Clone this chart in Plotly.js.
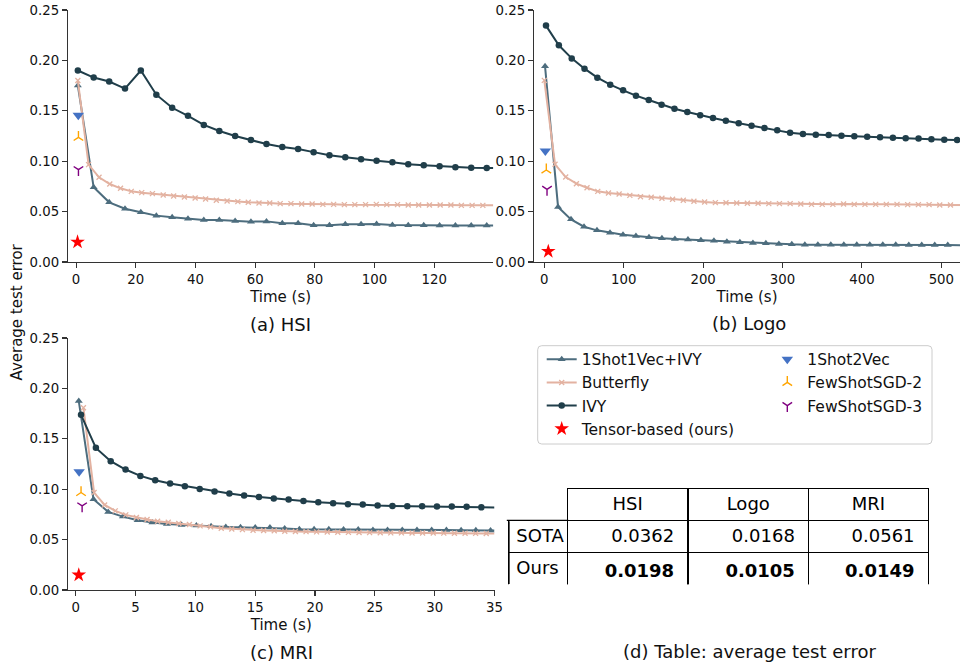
<!DOCTYPE html>
<html><head><meta charset="utf-8">
<script src="https://cdn.plot.ly/plotly-3.0.1.min.js"></script>
<style>html,body{margin:0;padding:0;background:#fff}#chart{width:960px;height:666px}</style>
</head><body><div id="chart"></div>
<script>
// ---------------- DATA ----------------
// (a) HSI
const hsiTimeIvy = [0.6, 5.9, 11.1, 16.4, 21.7, 26.9, 32.2, 37.5, 42.8, 48.0, 53.3, 58.6, 63.8, 69.1, 74.4, 79.6, 84.9, 90.2, 95.5, 100.7, 106.0, 111.3, 116.5, 121.8, 127.1, 132.4, 137.6];
const hsiIvy = [0.190, 0.183, 0.179, 0.172, 0.190, 0.166, 0.153, 0.145, 0.136, 0.130, 0.125, 0.121, 0.117, 0.114, 0.112, 0.109, 0.106, 0.104, 0.102, 0.1005, 0.099, 0.097, 0.096, 0.095, 0.094, 0.0936, 0.0933];
const hsi1Shot1Vec = [0.175, 0.0741, 0.0592, 0.0529, 0.0493, 0.046, 0.0443, 0.043, 0.0417, 0.0417, 0.0407, 0.040, 0.0403, 0.0384, 0.0384, 0.0364, 0.0364, 0.0374, 0.0374, 0.0377, 0.0367, 0.0364, 0.0364, 0.0362, 0.0362, 0.0362, 0.0362];
const hsiTimeButterfly = [0.6, 4.2, 7.7, 11.3, 14.9, 18.5, 22.0, 25.6, 29.2, 32.7, 36.3, 39.9, 43.4, 47.0, 50.6, 54.2, 57.7, 61.3, 64.9, 68.4, 72.0, 75.6, 79.1, 82.7, 86.3, 89.9, 93.4, 97.0, 100.6, 104.1, 107.7, 111.3, 114.8, 118.4, 122.0, 125.6, 129.1, 132.7, 136.3];
const hsiButterfly = [0.180, 0.0966, 0.084, 0.0774, 0.0731, 0.0701, 0.0688, 0.0678, 0.0665, 0.0655, 0.0645, 0.0635, 0.0625, 0.0612, 0.0605, 0.0599, 0.0592, 0.0585, 0.0585, 0.0579, 0.0579, 0.0576, 0.0576, 0.0572, 0.0572, 0.0569, 0.0569, 0.0569, 0.0572, 0.0569, 0.0569, 0.0565, 0.0565, 0.0565, 0.0565, 0.0565, 0.0562, 0.0562, 0.0562];
// curve values where the lines leave the plot at its right edge: IVY, 1Shot1Vec+IVY, Butterfly
const hsiEdgeTime = 139.8;
const hsiEdgeErr = [0.0932, 0.0362, 0.0562];
// single-point methods: 1Shot2Vec, FewShotSGD-2, FewShotSGD-3, Tensor-based (ours)
const hsiPointTime = [0.75, 0.8, 0.8, 0.5];
const hsiPointErr = [0.1455, 0.1237, 0.0916, 0.0198];

// (b) Logo
const logoTimeIvy = [2.1, 18.3, 34.5, 50.6, 66.8, 83.0, 99.2, 115.4, 131.5, 147.7, 163.9, 180.1, 196.3, 212.4, 228.6, 244.8, 261.0, 277.2, 293.3, 309.5, 325.7, 341.9, 358.1, 374.2, 390.4, 406.6, 422.8, 439.0, 455.1, 471.3, 487.5, 503.7, 519.9];
const logoIvy = [0.2345, 0.215, 0.202, 0.1918, 0.1829, 0.1759, 0.1703, 0.165, 0.1607, 0.1561, 0.1521, 0.1488, 0.1455, 0.1429, 0.1402, 0.1376, 0.1352, 0.1329, 0.1306, 0.1283, 0.127, 0.1263, 0.126, 0.1253, 0.1247, 0.1243, 0.1237, 0.1233, 0.1227, 0.1224, 0.1217, 0.1214, 0.121];
const logoTime1Shot1Vec = [0.9, 17.3, 33.6, 50.0, 66.3, 82.7, 99.1, 115.4, 131.8, 148.1, 164.5, 180.9, 197.2, 213.6, 229.9, 246.3, 262.7, 279.0, 295.4, 311.7, 328.1, 344.5, 360.8, 377.2, 393.5, 409.9, 426.3, 442.6, 459.0, 475.3, 491.7, 508.1];
const logo1Shot1Vec = [0.1941, 0.0546, 0.0423, 0.035, 0.0314, 0.0291, 0.0271, 0.0258, 0.0245, 0.0235, 0.0228, 0.0222, 0.0215, 0.0212, 0.0202, 0.0195, 0.0188, 0.0185, 0.0179, 0.0175, 0.0172, 0.0172, 0.0172, 0.0172, 0.0172, 0.0172, 0.0172, 0.0172, 0.0169, 0.0169, 0.0169, 0.0168];
const logoTimeButterfly = [0, 13.5, 26.9, 40.4, 53.8, 67.3, 80.8, 94.2, 107.7, 121.1, 134.6, 148.1, 161.5, 175.0, 188.4, 201.9, 215.4, 228.8, 242.3, 255.7, 269.2, 282.7, 296.1, 309.6, 323.0, 336.5, 350.0, 363.4, 376.9, 390.3, 403.8, 417.3, 430.7, 444.2, 457.6, 471.1, 484.6, 498.0, 511.5];
const logoButterfly = [0.1802, 0.0969, 0.0843, 0.0777, 0.0737, 0.0701, 0.0685, 0.0675, 0.0661, 0.0648, 0.0642, 0.0632, 0.0622, 0.0612, 0.0602, 0.0595, 0.0589, 0.0587, 0.0585, 0.0582, 0.0582, 0.0579, 0.0579, 0.0579, 0.0575, 0.0572, 0.0572, 0.0572, 0.0575, 0.0572, 0.0572, 0.0572, 0.0572, 0.0572, 0.0569, 0.0569, 0.0569, 0.0565, 0.0565];
const logoEdgeTime = 523.5;
const logoEdgeErr = [0.1209, 0.0167, 0.0565];
const logoPointTime = [1.3, 2.5, 3.4, 5.0];
const logoPointErr = [0.1101, 0.0913, 0.0721, 0.0105];

// (c) MRI
const mriTimeIvy = [0.44, 1.68, 2.92, 4.16, 5.40, 6.64, 7.88, 9.12, 10.36, 11.60, 12.84, 14.07, 15.31, 16.55, 17.79, 19.03, 20.27, 21.51, 22.75, 23.99, 25.23, 26.47, 27.71, 28.95, 30.19, 31.43, 32.67, 33.90];
const mriIvy = [0.1738, 0.141, 0.1278, 0.1195, 0.1132, 0.1089, 0.1056, 0.103, 0.1003, 0.0977, 0.0957, 0.0937, 0.0922, 0.0907, 0.0897, 0.0884, 0.0871, 0.0861, 0.0851, 0.0848, 0.0838, 0.0834, 0.0831, 0.0831, 0.0828, 0.0828, 0.0825, 0.0820];
const mriTime1Shot1Vec = [0.25, 1.48, 2.71, 3.94, 5.17, 6.40, 7.62, 8.85, 10.08, 11.31, 12.54, 13.77, 15.00, 16.23, 17.46, 18.69, 19.92, 21.15, 22.38, 23.61, 24.84, 26.06, 27.29, 28.52, 29.75, 30.98, 32.21, 33.44, 34.67];
const mri1Shot1Vec = [0.1874, 0.0901, 0.0775, 0.0728, 0.0692, 0.0669, 0.0656, 0.0646, 0.0639, 0.0632, 0.0626, 0.0623, 0.0619, 0.0619, 0.0609, 0.0603, 0.0603, 0.0603, 0.0599, 0.0599, 0.0596, 0.0596, 0.0596, 0.0596, 0.0596, 0.0596, 0.0593, 0.0593, 0.059];
const mriTimeButterfly = [0.64, 1.53, 2.41, 3.30, 4.18, 5.07, 5.96, 6.84, 7.73, 8.61, 9.50, 10.39, 11.27, 12.16, 13.04, 13.93, 14.82, 15.70, 16.59, 17.47, 18.36, 19.25, 20.13, 21.02, 21.90, 22.79, 23.68, 24.56, 25.45, 26.33, 27.22, 28.11, 28.99, 29.88, 30.76, 31.65, 32.54, 33.42, 34.31];
const mriButterfly = [0.1808, 0.0967, 0.0844, 0.0785, 0.0745, 0.0719, 0.0699, 0.0682, 0.0672, 0.0659, 0.0649, 0.0636, 0.0626, 0.0613, 0.0606, 0.0599, 0.0593, 0.0590, 0.0588, 0.0583, 0.0581, 0.0579, 0.0577, 0.0575, 0.0573, 0.0572, 0.0570, 0.0569, 0.0568, 0.0567, 0.0567, 0.0566, 0.0565, 0.0565, 0.0564, 0.0563, 0.0563, 0.0562, 0.0561];
const mriEdgeTime = 35;
const mriEdgeErr = [0.0819, 0.0590, 0.0561];
const mriPointTime = [0.28, 0.44, 0.53, 0.25];
const mriPointErr = [0.1172, 0.0967, 0.0834, 0.0149];

// (d) table
const tableDatasets = ['HSI', 'Logo', 'MRI'];
const tableRowLabels = ['SOTA', 'Ours'];
const tableSota = [0.0362, 0.0168, 0.0561];
const tableOurs = [0.0198, 0.0105, 0.0149];

const pointMethods = ['1Shot2Vec', 'FewShotSGD-2', 'FewShotSGD-3', 'Tensor-based (ours)'];
const yTickVals = [0, 0.05, 0.10, 0.15, 0.20, 0.25];
const hsiTicks = [0, 20, 40, 60, 80, 100, 120];
const logoTicks = [0, 100, 200, 300, 400, 500];
const mriTicks = [0, 5, 10, 15, 20, 25, 30, 35];

// ---------------- STYLE ----------------
const FONT = 'DejaVu Sans, Liberation Sans, sans-serif';
const W = 960, H = 666;
const PX = p => p / W, PY = p => 1 - p / H;

const lineStyle = {
  '1Shot1Vec+IVY': {color: '#4d6d7e', symbol: 'triangle-up', size: 7, rank: 1},
  'Butterfly': {color: '#e3b2a1', symbol: 'x-thin', size: 5, rank: 3},
  'IVY': {color: '#203e4a', symbol: 'circle', size: 6.5, rank: 5}
};
const pointStyle = {
  '1Shot2Vec': {color: '#4472c4', symbol: 'triangle-down', size: 10, lw: 0, legend: 'legend2', rank: 2},
  'FewShotSGD-2': {color: '#ffa500', symbol: 'y-up', size: 8, lw: 1.4, legend: 'legend2', rank: 4},
  'FewShotSGD-3': {color: '#800080', symbol: 'y-down', size: 8, lw: 1.4, legend: 'legend2', rank: 6},
  'Tensor-based (ours)': {color: '#ff0000', symbol: 'star', size: 11, lw: 0, legend: 'legend', rank: 7}
};

function lineTrace(name, x, y, ax, show) {
  const s = lineStyle[name];
  const m = {symbol: s.symbol, size: s.size, color: s.color};
  if (s.symbol === 'x-thin') m.line = {color: s.color, width: 1.3};
  return {
    type: 'scatter', mode: 'lines+markers', name, x, y,
    xaxis: 'x' + ax, yaxis: 'y' + ax,
    line: {color: s.color, width: 2},
    marker: m, showlegend: show, legend: 'legend', legendrank: s.rank,
    cliponaxis: false
  };
}
// continuation of a curve from its last marker to the right edge of the axes
function edgeTrace(name, x, y, edgeX, edgeY, ax) {
  const s = lineStyle[name];
  return {
    type: 'scatter', mode: 'lines', name, x: [x[x.length - 1], edgeX], y: [y[y.length - 1], edgeY],
    xaxis: 'x' + ax, yaxis: 'y' + ax, line: {color: s.color, width: 2},
    showlegend: false, hoverinfo: 'skip'
  };
}
function pointTraces(xs, ys, ax, show) {
  return pointMethods.map((name, i) => {
    const s = pointStyle[name];
    const m = {symbol: s.symbol, size: s.size, color: s.color};
    if (s.lw) m.line = {color: s.color, width: s.lw};
    return {
      type: 'scatter', mode: 'markers', name, x: [xs[i]], y: [ys[i]],
      xaxis: 'x' + ax, yaxis: 'y' + ax, marker: m,
      showlegend: show, legend: s.legend, legendrank: s.rank, cliponaxis: false
    };
  });
}
function panel(ax, show, tIvy, ivy, t1s, s1, tB, bf, edgeT, edgeE, pT, pE) {
  return [
    edgeTrace('1Shot1Vec+IVY', t1s, s1, edgeT, edgeE[1], ax),
    edgeTrace('Butterfly', tB, bf, edgeT, edgeE[2], ax),
    edgeTrace('IVY', tIvy, ivy, edgeT, edgeE[0], ax),
    lineTrace('1Shot1Vec+IVY', t1s, s1, ax, show),
    lineTrace('Butterfly', tB, bf, ax, show),
    lineTrace('IVY', tIvy, ivy, ax, show),
    ...pointTraces(pT, pE, ax, show)
  ];
}

const traces = [
  ...panel('', true, hsiTimeIvy, hsiIvy, hsiTimeIvy, hsi1Shot1Vec, hsiTimeButterfly, hsiButterfly, hsiEdgeTime, hsiEdgeErr, hsiPointTime, hsiPointErr),
  ...panel('2', false, logoTimeIvy, logoIvy, logoTime1Shot1Vec, logo1Shot1Vec, logoTimeButterfly, logoButterfly, logoEdgeTime, logoEdgeErr, logoPointTime, logoPointErr),
  ...panel('3', false, mriTimeIvy, mriIvy, mriTime1Shot1Vec, mri1Shot1Vec, mriTimeButterfly, mriButterfly, mriEdgeTime, mriEdgeErr, mriPointTime, mriPointErr)
];

// table
const tableCols = [tableRowLabels.slice()];
tableDatasets.forEach((d, j) => {
  tableCols.push([tableSota[j].toFixed(4), '<b>' + tableOurs[j].toFixed(4) + '</b>']);
});
const tX0 = 508.3, tX1 = 929.3, tY0 = 488.3, rowH = 32;
traces.push({
  type: 'table',
  domain: {x: [PX(tX0), PX(tX1)], y: [PY(tY0 + 3 * rowH + 0.5), PY(tY0)]},
  columnwidth: [59.4, 120.6, 121, 120],
  header: {
    values: [''].concat(tableDatasets),
    align: 'center', height: rowH,
    font: {family: FONT, size: 18, color: '#000'},
    fill: {color: 'white'},
    line: {color: ['white', 'black', 'black', 'black'], width: 1.3}
  },
  cells: {
    values: tableCols,
    align: ['left', 'right', 'right', 'right'],
    suffix: ['', '\u00a0', '\u00a0', '\u00a0'],
    height: rowH,
    font: {family: FONT, size: 18, color: '#000'},
    fill: {color: 'white'},
    line: {color: 'black', width: 1.3}
  }
});

function xAxis(domain, range, ticks, anchor) {
  return {
    domain, range, tickvals: ticks, anchor,
    showline: true, linecolor: '#333', linewidth: 1.2,
    ticks: 'outside', ticklen: 5, tickwidth: 1.1, tickcolor: '#333',
    showgrid: false, zeroline: false,
    tickfont: {family: FONT, size: 13.3, color: '#111'},
    title: {text: 'Time (s)', font: {family: FONT, size: 15, color: '#111'}, standoff: 5}
  };
}
function yAxis(domain, anchor) {
  return {
    domain, range: [0, 0.25], tickvals: yTickVals, tickformat: '.2f', anchor,
    showline: true, linecolor: '#333', linewidth: 1.2,
    ticks: 'outside', ticklen: 5, tickwidth: 1.1, tickcolor: '#333',
    showgrid: false, zeroline: false,
    tickfont: {family: FONT, size: 13.3, color: '#111'}
  };
}

const topRow = [PY(262), PY(10)];
const botRow = [PY(590), PY(338)];

const lx0 = 537.7, ly0 = 345.7, lx1 = 932, ly1 = 444, r = 4;
const framePath = `M ${PX(lx0 + r)},${PY(ly0)} L ${PX(lx1 - r)},${PY(ly0)} Q ${PX(lx1)},${PY(ly0)} ${PX(lx1)},${PY(ly0 + r)} ` +
  `L ${PX(lx1)},${PY(ly1 - r)} Q ${PX(lx1)},${PY(ly1)} ${PX(lx1 - r)},${PY(ly1)} L ${PX(lx0 + r)},${PY(ly1)} ` +
  `Q ${PX(lx0)},${PY(ly1)} ${PX(lx0)},${PY(ly1 - r)} L ${PX(lx0)},${PY(ly0 + r)} Q ${PX(lx0)},${PY(ly0)} ${PX(lx0 + r)},${PY(ly0)} Z`;

function caption(text, x, y) {
  return {text, x: PX(x), y: PY(y), xref: 'paper', yref: 'paper', showarrow: false,
    xanchor: 'center', yanchor: 'middle', font: {family: FONT, size: 18, color: '#111'}};
}
// plain black rule drawn above the table (used for the row-label column edges)
function rule(xEnd, yEnd, dx, dy) {
  return {text: '', x: PX(xEnd), y: PY(yEnd), xref: 'paper', yref: 'paper',
    showarrow: true, arrowhead: 0, arrowwidth: 1.3, arrowcolor: 'black',
    ax: dx, ay: dy, standoff: 0, startstandoff: 0, font: {size: 1}, borderpad: 0};
}

const legendCommon = {
  yanchor: 'top', xanchor: 'left', y: PY(342.7),
  bgcolor: 'rgba(0,0,0,0)', borderwidth: 0, itemwidth: 30,
  font: {family: FONT, size: 15.5, color: '#111'}, traceorder: 'normal'
};

const layout = {
  width: W, height: H,
  margin: {l: 0, r: 0, t: 0, b: 0, pad: 0},
  paper_bgcolor: 'white', plot_bgcolor: 'rgba(0,0,0,0)',
  font: {family: FONT, color: '#111'},
  xaxis: xAxis([PX(68), PX(493.3)], [-2.7, 139.8], hsiTicks, 'y'),
  yaxis: yAxis(topRow, 'x'),
  xaxis2: xAxis([PX(534), 1], [-13, 523.5], logoTicks, 'y2'),
  yaxis2: yAxis(topRow, 'x2'),
  xaxis3: xAxis([PX(68), PX(494.5)], [-0.65, 35], mriTicks, 'y3'),
  yaxis3: yAxis(botRow, 'x3'),
  legend: Object.assign({}, legendCommon, {x: PX(541.7)}),
  legend2: Object.assign({}, legendCommon, {x: PX(767.3)}),
  shapes: [
    {type: 'path', xref: 'paper', yref: 'paper', path: framePath,
      line: {color: '#cccccc', width: 1}, fillcolor: 'white', layer: 'below'}
  ],
  annotations: [
    caption('(a) HSI', 280.5, 324.5),
    caption('(b) Logo', 748.5, 323),
    caption('(c) MRI', 281.5, 652.5),
    caption('(d) Table: average test error', 749, 651),
    {text: 'Average test error', x: PX(16), y: PY(312.5), xref: 'paper', yref: 'paper',
      showarrow: false, textangle: -90, xanchor: 'center', yanchor: 'middle',
      font: {family: FONT, size: 15, color: '#111'}},
    rule(tX0 + 60, tY0 + rowH, -62, 0),
    rule(tX0 + 0.7, tY0 + 3 * rowH - 0.3, 0, -(2 * rowH - 0.8))
  ],
  showlegend: true
};

Plotly.newPlot('chart', traces, layout, {staticPlot: true, displayModeBar: false});
</script></body></html>
